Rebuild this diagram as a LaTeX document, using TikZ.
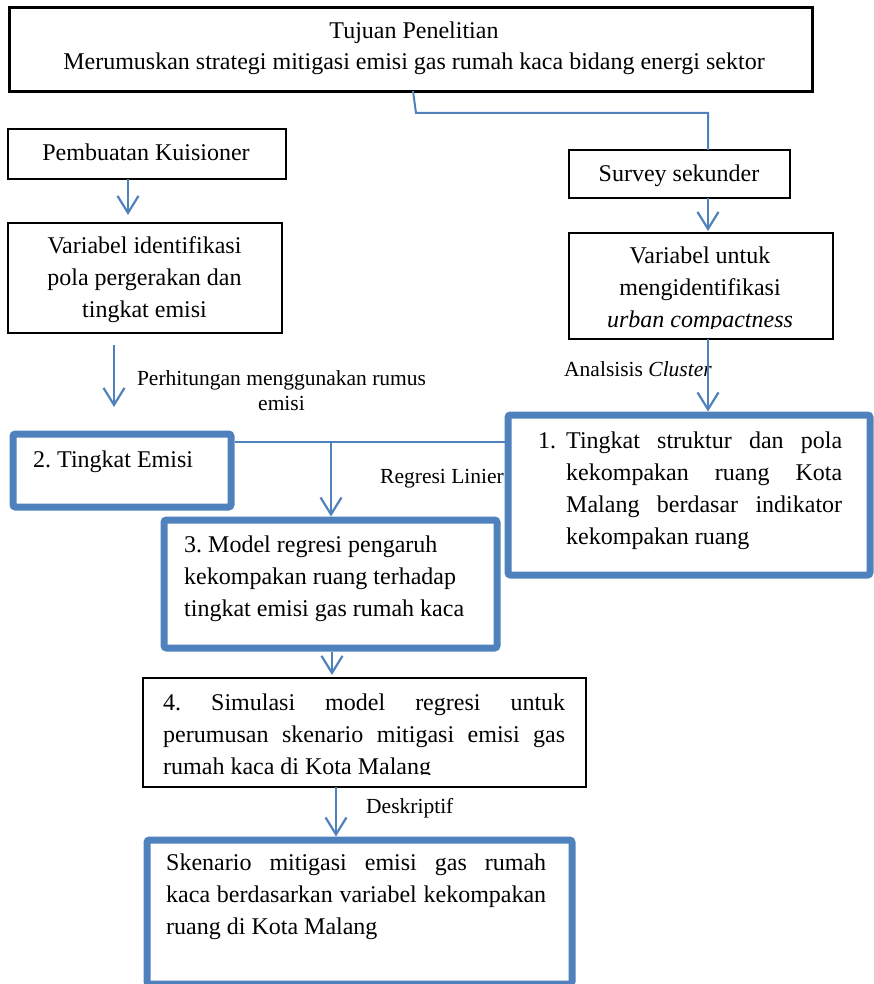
\documentclass[tikz,border=0pt]{standalone}
\usepackage{fontspec}
\setmainfont{Liberation Serif}
\usetikzlibrary{arrows.meta}
\definecolor{oblue}{RGB}{79,129,189}
\frenchspacing
\begin{document}
\begin{tikzpicture}[x=1pt,y=-1pt,
  thinbox/.style={draw=black, line width=2pt, inner sep=0pt, outer sep=0pt, anchor=north west},
  thickbox/.style={draw=oblue, line width=7pt, rounded corners=2.5pt, inner sep=0pt, anchor=north west, fill=white},
  conn/.style={draw=oblue, line width=2pt},
  arr/.style={conn, -{Straight Barb[length=17pt,width=21pt,line width=2.2pt]}},
  boxtxt/.style={font=\fontsize{24}{32}\selectfont, inner sep=0pt},
  toptxt/.style={font=\fontsize{24}{30}\selectfont, inner sep=0pt},
  lbl/.style={font=\fontsize{21.5}{25}\selectfont, inner sep=0pt},
  jtxt/.style={boxtxt, align=justify, anchor=north west},
]
\useasboundingbox (0,0) rectangle (873,984);
\hyphenpenalty=10000 \exhyphenpenalty=10000 \tolerance=10000

% boxes
\node[thinbox, line width=2.5pt, minimum width=803, minimum height=84] (goal) at (9.5,7.5) {};
\node[toptxt, anchor=base] (goalA) at (414,39) {Tujuan Penelitian};
\node[toptxt, anchor=base] (goalB) at (414,70) {Merumuskan strategi mitigasi emisi gas rumah kaca bidang energi sektor};

\node[thinbox, minimum width=278, minimum height=50] (kuis) at (8,129) {};
\node[boxtxt, anchor=base] (kuisT) at (146,161) {Pembuatan Kuisioner};

\node[thinbox, minimum width=274, minimum height=110] (varA) at (8,223) {};
\node[boxtxt, align=center, anchor=north] (varAT) at (144.5,236.5) {Variabel identifikasi\\pola pergerakan dan\\tingkat emisi};

\node[thinbox, minimum width=221, minimum height=48] (surv) at (569,150) {};
\node[boxtxt, anchor=base] (survT) at (679,182) {Survey sekunder};

\node[thinbox, minimum width=264, minimum height=106] (varB) at (569,233) {};
\begin{scope}
  \clip (569,233) rectangle (833,328.5);
  \node[boxtxt, align=center, anchor=north] (varBT) at (700,246.5) {Variabel untuk\\mengidentifikasi\\\textit{urban compactness}};
\end{scope}

\node[thickbox, minimum width=362, minimum height=160] (b1) at (504.5,411.5) {};
\node[boxtxt, anchor=base west] (b1N) at (538,448) {1.};
\node[jtxt, text width=276] (b1T) at (566,431.5) {Tingkat struktur dan pola\linebreak kekompakan ruang Kota\linebreak Malang berdasar indikator\linebreak kekompakan ruang};

\node[thickbox, minimum width=218, minimum height=73] (b2) at (9.5,430.5) {};
\node[boxtxt, anchor=base west] (b2T) at (33,467) {2. Tingkat Emisi};

\node[thickbox, minimum width=333, minimum height=128] (b3) at (160.5,516.5) {};
\node[boxtxt, align=left, anchor=north west] (b3T) at (184,535.5) {3. Model regresi pengaruh\\kekompakan ruang terhadap\\tingkat emisi gas rumah kaca};

\node[thinbox, minimum width=443, minimum height=109] (b4) at (143,678) {};
\begin{scope}
  \clip (143,678) rectangle (586,774.5);
  \node[jtxt, text width=402] (b4T) at (163,693.5) {4.\ Simulasi model regresi untuk\linebreak perumusan skenario mitigasi emisi gas\linebreak rumah kaca di Kota Malang};
\end{scope}

\node[thickbox, minimum width=425, minimum height=144] (b5) at (143.5,836.5) {};
\node[jtxt, text width=380] (b5T) at (166,853.5) {Skenario mitigasi emisi gas rumah\linebreak kaca berdasarkan variabel kekompakan\linebreak ruang di Kota Malang};

% connector coordinates
\coordinate (g1) at (413,91);
\coordinate (g2) at (416,113);
\coordinate (g3) at (708,113);
\coordinate (a1) at (114,345);
\coordinate (a2) at (114,407);
\coordinate (j1) at (331,442);

% labels
\node[lbl, align=center, anchor=north] (lblP) at (281.5,370) {Perhitungan menggunakan rumus\\emisi};
\node[lbl, anchor=base west] (lblC) at (564,376) {Analsisis \textit{Cluster}};
\node[lbl, anchor=base west] (lblD) at (366,813) {Deskriptif};

% connectors
\draw[conn] (g1) -- (g2) -- (g3) -- (g3 |- surv.north);
\draw[arr] (kuis.south -| 128,0) -- ([yshift=8pt]varA.north -| 128,0);
\draw[arr] (a1) -- (a2);
\draw[arr] (surv.south -| 708,0) -- ([yshift=2pt]varB.north -| 708,0);
\draw[arr] (varB.south -| 708,0) -- (b1.north -| 708,0);
\draw[conn] (b2.east |- j1) -- (b1.west |- j1);
\draw[arr] (j1) -- (b3.north -| j1);
\draw[arr] (b3.south -| 332,0) -- ([yshift=3pt]b4.north -| 332,0);
\draw[arr] (b4.south -| 336,0) -- (b5.north -| 336,0);

\node[lbl, anchor=base east, fill=white] (lblR) at (504,483) {Regresi Linier\hspace{8pt}};
\end{tikzpicture}
\end{document}
